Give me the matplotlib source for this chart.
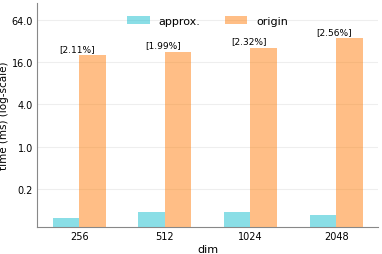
import numpy as np
import matplotlib.pyplot as plt
from matplotlib.ticker import FixedLocator, FormatStrFormatter

# data
dims = ['256', '512', '1024', '2048']
approx_ms = [0.096, 0.117, 0.118, 0.105]
origin_ms = [20.2, 22.4, 25.6, 35.0]
ratio_labels = ['[2.11%]', '[1.99%]', '[2.32%]', '[2.56%]']
yticks = [0.25, 1.0, 4.0, 16.0, 64.0]

plt.rcParams['font.family'] = 'DejaVu Sans'
plt.rcParams['font.size'] = 7

fig, ax = plt.subplots(figsize=(3.82, 2.55), dpi=100)

x = np.arange(len(dims))
w = 0.31
ax.bar(x - w / 2, approx_ms, w, color='tab:cyan', alpha=0.5, label='approx.', zorder=3)
ax.bar(x + w / 2, origin_ms, w, color='tab:orange', alpha=0.5, label='origin', zorder=3)

for xi, v, lab in zip(x, origin_ms, ratio_labels):
    ax.text(xi - 0.02, v * 1.08, lab, ha='center', va='bottom', fontsize=6.5)

ax.set_yscale('log')
ax.set_ylim(0.071, 112)
ax.yaxis.set_major_locator(FixedLocator(yticks))
ax.yaxis.set_major_formatter(FormatStrFormatter('%.1f'))
ax.yaxis.set_minor_locator(FixedLocator([]))
ax.set_xticks(x)
ax.set_xticklabels(dims)
ax.tick_params(length=0, pad=3, labelsize=7)

ax.grid(axis='y', color='#eeeeee', linewidth=0.8, zorder=0)
for s in ['top', 'right']:
    ax.spines[s].set_visible(False)
for s in ['left', 'bottom']:
    ax.spines[s].set_color('#888888')

ax.set_xlabel('dim', fontsize=8, labelpad=2)
ax.set_ylabel('time (ms) (log-scale)', fontsize=7.5, labelpad=2)
ax.legend(loc='upper center', ncol=2, frameon=False, fontsize=8,
          handlelength=2.0, columnspacing=2.2, bbox_to_anchor=(0.5, 0.985))

fig.subplots_adjust(left=0.097, right=0.99, top=0.985, bottom=0.105)
fig.savefig('out.png', dpi=100)
